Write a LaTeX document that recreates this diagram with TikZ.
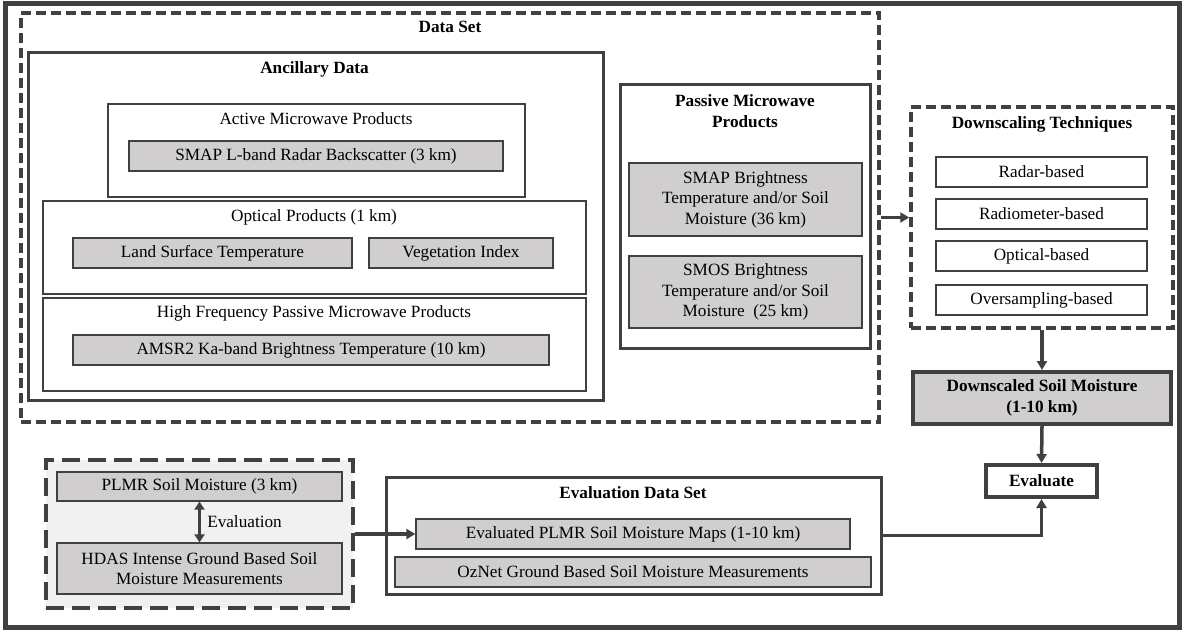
\documentclass[tikz,border=0pt]{standalone}
\usepackage{fontspec}
\setmainfont{Liberation Serif}
\usepackage{tikz}
\usetikzlibrary{positioning}
\usetikzlibrary{arrows.meta}

\definecolor{linegray}{HTML}{404040}
\definecolor{boxgray}{HTML}{D0CECE}
\definecolor{panelgray}{HTML}{F1F1F1}

\begin{document}
\begin{tikzpicture}[x=1pt, y=-1pt,
    font=\fontsize{17.2}{20.5}\selectfont,
    holder/.style={draw=linegray, line width=1.6pt, inner sep=0pt},
    bigholder/.style={draw=linegray, line width=3pt, inner sep=0pt},
    dashholder/.style={draw=linegray, line width=3.5pt, dash pattern=on 10pt off 5pt, inner sep=0pt},
    item/.style={draw=linegray, line width=1.3pt, fill=boxgray, inner sep=0pt, align=center},
    plain/.style={draw=linegray, line width=1.3pt, inner sep=0pt, align=center},
    result/.style={draw=linegray, line width=4pt, inner sep=0pt, align=center, font=\fontsize{17.2}{20.5}\selectfont\bfseries},
    title/.style={inner sep=0pt, align=center, font=\fontsize{17.2}{20.5}\selectfont\bfseries},
    arr/.style={draw=linegray, line width=3.5pt, -{Triangle[length=9pt, width=10pt]}}]

  \useasboundingbox (0,0) rectangle (1182,631);
  \draw[linegray, line width=5pt] (5,4) rectangle (1179,627);

  \node[dashholder, minimum width=858pt, minimum height=409pt] (dataset) at (450,217.5) {};
  \node[title] (dataset-t) at (450,27) {Data Set};

  \node[bigholder, minimum width=575pt, minimum height=347pt] (ancillary) at (315.5,226.5) {};
  \node[title] (ancillary-t) at (314.5,69) {Ancillary Data};

  \node[holder, minimum width=417pt, minimum height=93pt] (active) at (316.5,150.5) {};
  \node[inner sep=0pt] (active-t) at (316,119) {Active Microwave Products};
  \node[item, minimum width=374pt, minimum height=30pt] (radar) at (316,156) {SMAP L-band Radar Backscatter (3 km)};

  \node[holder, minimum width=543pt, minimum height=93pt] (optical) at (314.5,247.5) {};
  \node[inner sep=0pt] (optical-t) at (314,217) {Optical Products (1 km)};
  \node[item, minimum width=279pt, minimum height=30pt] (lst) at (212.5,253) {Land Surface Temperature};
  \node[item, minimum width=184pt, minimum height=30pt] (vi) at (461,253) {Vegetation Index};

  \node[holder, minimum width=543pt, minimum height=93pt] (highfreq) at (314.5,344.5) {};
  \node[inner sep=0pt] (highfreq-t) at (314,313) {High Frequency Passive Microwave Products};
  \node[item, minimum width=476pt, minimum height=30pt] (amsr) at (311,350) {AMSR2 Ka-band Brightness Temperature (10 km)};

  \node[bigholder, minimum width=250pt, minimum height=263pt] (passive) at (745,216.5) {};
  \node[title] (passive-t) at (745,111) {Passive Microwave\\Products};
  \node[item, minimum width=233pt, minimum height=73pt] (smap) at (745.5,199.5) {SMAP Brightness\\Temperature and/or Soil\\Moisture (36 km)};
  \node[item, minimum width=233pt, minimum height=72pt] (smos) at (745.5,292) {SMOS Brightness\\Temperature and/or Soil\\Moisture~ (25 km)};

  \node[dashholder, minimum width=262pt, minimum height=221pt] (downscale) at (1042,217.5) {};
  \node[title] (downscale-t) at (1042,124) {Downscaling Techniques};
  \node[plain, minimum width=211pt, minimum height=30pt] (radarb) at (1041.5,172) {Radar-based};
  \node[plain, minimum width=211pt, minimum height=30pt] (radiob) at (1041.5,214) {Radiometer-based};
  \node[plain, minimum width=211pt, minimum height=30pt] (opticalb) at (1041.5,256) {Optical-based};
  \node[plain, minimum width=211pt, minimum height=30pt] (overb) at (1041.5,300) {Oversampling-based};

  \node[result, fill=boxgray, minimum width=258pt, minimum height=52pt] (downscaled) at (1042,398) {Downscaled Soil Moisture\\(1-10 km)};
  \node[result, minimum width=111pt, minimum height=32pt] (evaluate) at (1041.5,481) {Evaluate};

  \node[bigholder, minimum width=495pt, minimum height=117pt] (evalset) at (633.5,535.5) {};
  \node[title] (evalset-t) at (633,493) {Evaluation Data Set};
  \node[item, minimum width=434pt, minimum height=30pt] (evalplmr) at (633,534) {Evaluated PLMR Soil Moisture Maps (1-10 km)};
  \node[item, minimum width=476pt, minimum height=30pt] (oznet) at (633,572) {OzNet Ground Based Soil Moisture Measurements};

  \node[dashholder, fill=panelgray, dash pattern=on 18pt off 8pt, minimum width=307pt, minimum height=148pt] (panel) at (199.5,534) {};
  \node[item, minimum width=285pt, minimum height=29pt] (plmr) at (199.5,486.5) {PLMR Soil Moisture (3 km)};
  \node[item, minimum width=285pt, minimum height=51pt] (hdas) at (199.5,568.5) {HDAS Intense Ground Based Soil\\Moisture Measurements};

  \draw[arr] (dataset.east) -- (downscale.west);
  \draw[arr] (downscale.south) -- (downscaled.north);
  \draw[arr] (downscaled.south) -- (evaluate.north);
  \draw[arr] (evalset.east) -| (evaluate.south);
  \draw[arr] (panel.east) -- (evalplmr.west);
  \draw[arr, {Triangle[length=8pt, width=10pt]}-{Triangle[length=8pt, width=10pt]}] (plmr.south) -- node[right=6pt, inner sep=0pt] {Evaluation} (hdas.north);

\end{tikzpicture}
\end{document}
